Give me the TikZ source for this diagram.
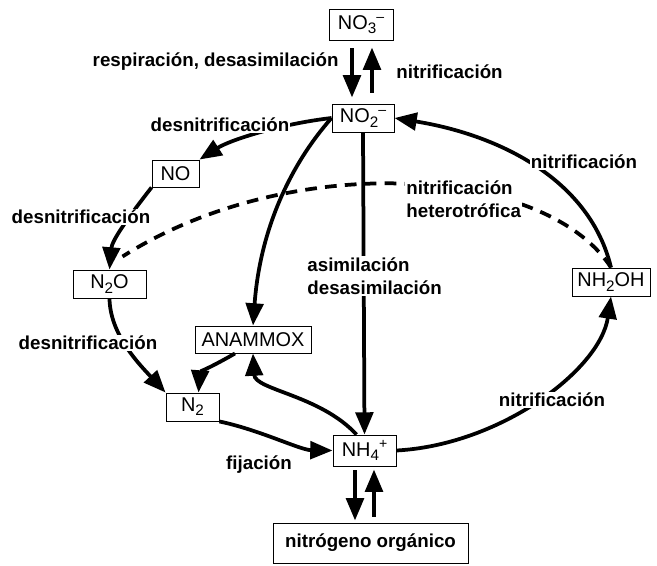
\documentclass[tikz,border=0pt]{standalone}
\usepackage{fontspec}
\setmainfont{Liberation Sans}
\usetikzlibrary{arrows.meta,positioning}

\newcommand{\lo}[1]{\raisebox{-0.4ex}{\fontsize{13}{13}\selectfont #1}}
\newcommand{\hi}[1]{\raisebox{0.75ex}{\fontsize{12}{12}\selectfont #1}}

\begin{document}
\begin{tikzpicture}[x=0.03cm, y=-0.03cm, >={Triangle[length=19pt,width=15pt]},
	font=\fontsize{17}{19.5}\selectfont]
		
		\tikzstyle{species}=[draw, line width=0.8pt, inner sep=2pt, minimum height=0.84cm]
		\tikzstyle{proc}=[font=\fontsize{16}{19.5}\selectfont\bfseries, fill=white,
		inner sep=1pt, align=left]
		\tikzstyle{flow}=[->, line width=3.2pt]
		\tikzstyle{hetero}=[line width=3.2pt, dash pattern=on 10pt off 7pt]
		
		\useasboundingbox (0,0) rectangle (657,565);
		
		% Species
		\node[species, minimum width=1.92cm, minimum height=0.93cm] (no3) at (361,24.5)
		{NO\lo{3}\hi{--}};
		\node[species, minimum width=1.86cm] (no2) at (363,118) {NO\lo{2}\hi{--}};
		\node[species, minimum width=1.41cm, minimum height=0.81cm] (no) at (175.5,173.5) {NO};
		\node[species, minimum width=2.19cm] (n2o) at (109.5,284) {N\lo{2}O};
		\node[species, minimum width=2.34cm] (nh2oh) at (611,282) {NH\lo{2}OH};
		\node[species, minimum width=3.48cm, minimum height=0.81cm] (anammox) at (253,339.5) {ANAMMOX};
		\node[species, minimum width=1.59cm] (n2) at (192.5,407) {N\lo{2}};
		\node[species, minimum width=1.89cm, minimum height=0.93cm] (nh4) at (364.5,450.5)
		{NH\lo{4}\hi{+}};
		\node[species, minimum width=5.85cm, minimum height=1.2cm, font=\fontsize{16}{19.5}\selectfont\bfseries]
		(org) at (370.5,543) {nitrógeno orgánico};
		
		% Nitrate / nitrite exchange
		\draw[flow] ([shift={(-9,8)}]no3.south) -- ++(0,49);
		\draw[flow] ([shift={(9,-11)}]no2.north) -- ++(0,-45);
		
		% Denitrification chain
		\draw[flow] (no2.west) .. controls (280,124) and (230,140) .. (no.north east);
		\draw[flow] (no.south west) .. controls (130,215) and (112,240) .. (n2o.north);
		\draw[flow] (n2o.south) .. controls (110,335) and (140,365) .. (n2.north west);
		
		% Anammox
		\draw[flow] (no2.west) .. controls (290,165) and (260,230) .. (anammox.north);
		\draw[flow] ([shift={(-8,0)}]nh4.north) .. controls (320,395) and (255,390) .. (anammox.south);
		\draw[flow] ([shift={(-18,0)}]anammox.south) .. controls (215,365) and (200,372)
		.. ([shift={(6,0)}]n2.north);
		
		% Assimilation, fixation
		\draw[flow] (no2.south) -- (nh4.north);
		\draw[flow] (n2.south east) .. controls (260,430) and (300,450) .. (nh4.west);
		
		% Nitrification
		\draw[flow] (nh4.east) .. controls (500,445) and (600,370) .. (nh2oh.south);
		\draw[flow] (nh2oh.north) .. controls (590,180) and (500,135) .. (no2.east);
		\draw[hetero] (nh2oh.north) .. controls (545,165) and (290,150)
		.. ([shift={(13,-13)}]n2o.north);
		
		% Organic nitrogen exchange
		\draw[flow] ([shift={(-9.5,4)}]nh4.south) -- ++(0,50);
		\draw[flow] ([shift={(3.5,-6)}]org.north) -- ++(0,-47);
		
		% Process labels
		\node[proc, anchor=east] (lresp) at (340,62) {respiración, desasimilación};
		\node[proc, anchor=west] (lnit1) at (395,72) {nitrificación};
		\node[proc] (lden1) at (220,125) {desnitrificación};
		\node[proc] (lden2) at (81,217) {desnitrificación};
		\node[proc] (lden3) at (88,343) {desnitrificación};
		\node[proc] (lnit2) at (584,162) {nitrificación};
		\node[proc, anchor=west] (lhet) at (405,199) {nitrificación\\heterotrófica};
		\node[proc, anchor=west] (lasim) at (306,276) {asimilación\\desasimilación};
		\node[proc] (lfix) at (259,465) {fijación};
		\node[proc] (lnit3) at (552,400) {nitrificación};
		
\end{tikzpicture}
\end{document}
